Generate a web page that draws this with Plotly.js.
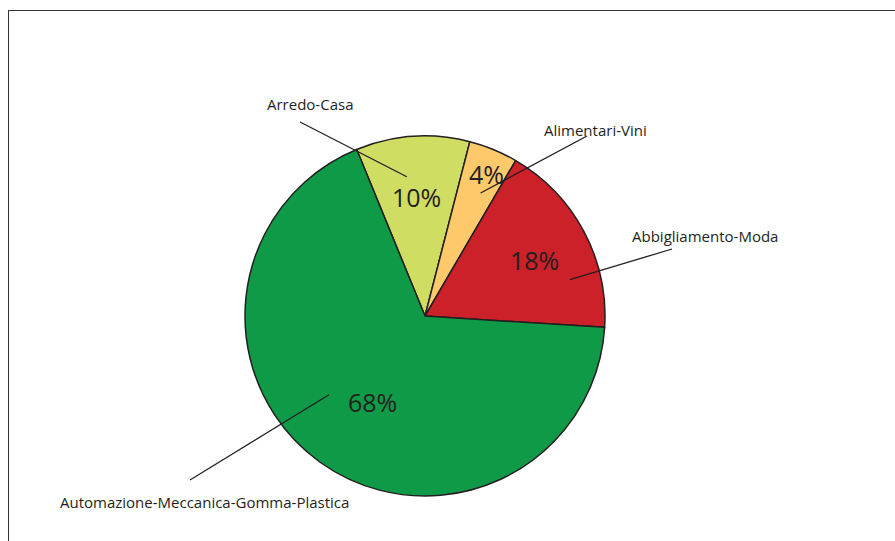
<!DOCTYPE html>
<html><head><meta charset="utf-8">
<script src="https://cdn.plot.ly/plotly-3.0.1.min.js"></script>
<style>
html,body{margin:0;padding:0;background:#fff;}
#frame{position:absolute;left:8px;top:10px;width:887px;height:531px;border-left:1.5px solid #333;border-top:1.5px solid #333;}
#chart{position:absolute;left:0;top:0;width:895px;height:541px;}
</style></head>
<body><div id="frame"></div><div id="chart"></div>
<script>
// Data (share in %)
const categories = ["Arredo-Casa", "Alimentari-Vini", "Abbigliamento-Moda", "Automazione-Meccanica-Gomma-Plastica"];
const values = [10.2, 4.4, 17.6, 67.8];
const colors = ["#cfdd63", "#fdc96b", "#cc2128", "#0f9a48"];

// Layout / style (pixels)
const W = 895, H = 541;
const CX = 425, CY = 316, R = 180;
const ROT = -22.3;
const pctStyle = [ {r:0.66, da:0}, {r:0.86, da:1}, {r:0.68, da:1}, {r:0.56, da:-4} ];
const tipStyle = [ {r:0.78, da:-3.5}, {r:0.75, da:2}, {r:0.83, da:14}, {r:0.69, da:15} ];
const tails = [ [-125,-194], [162,-180], [247,-67], [-235,164] ];
const labelOff = [ [-115,-212], [170,-186], [280,-80], [-221,186] ];

const px = x => x / W, py = y => 1 - y / H;
const total = values.reduce((a,b)=>a+b,0);
let start = ROT;
const annotations = [], shapes = [];
values.forEach((v,i)=>{
  const span = v/total*360;
  const mid = start + span/2;
  start += span;
  const polar = (ang, r) => { const a = ang*Math.PI/180; return [CX + r*R*Math.sin(a), CY - r*R*Math.cos(a)]; };
  const p = polar(mid + pctStyle[i].da, pctStyle[i].r);
  annotations.push({x:px(p[0]), y:py(p[1]), xref:'paper', yref:'paper', xanchor:'center', yanchor:'middle', showarrow:false,
    text: Math.round(v/total*100) + '%', font:{family:'Open Sans, sans-serif', size:25, color:'#231f20'}});
  const t = polar(mid + tipStyle[i].da, tipStyle[i].r);
  const tl = [CX + tails[i][0], CY + tails[i][1]];
  shapes.push({type:'line', xref:'paper', yref:'paper', x0:px(t[0]), y0:py(t[1]), x1:px(tl[0]), y1:py(tl[1]),
    line:{color:'#231f20', width:1.3}, layer:'above'});
  annotations.push({x:px(CX+labelOff[i][0]), y:py(CY+labelOff[i][1]), xref:'paper', yref:'paper', xanchor:'center', yanchor:'middle', showarrow:false,
    text: categories[i], font:{family:'Open Sans, sans-serif', size:15, color:'#231f20'}});
});

const trace = {
  type:'pie', labels:categories, values:values, sort:false, direction:'clockwise', rotation:ROT,
  marker:{colors:colors, line:{color:'#231f20', width:1.5}},
  textinfo:'none', hoverinfo:'label+percent', showlegend:false,
  domain:{x:[(CX-R)/W, (CX+R)/W], y:[(H-CY-R)/H, (H-CY+R)/H]}
};
Plotly.newPlot('chart', [trace], {
  width:W, height:H, margin:{l:0,r:0,t:0,b:0},
  paper_bgcolor:'rgba(0,0,0,0)', plot_bgcolor:'rgba(0,0,0,0)',
  showlegend:false, annotations:annotations, shapes:shapes
}, {displayModeBar:false, staticPlot:true});
</script></body></html>
